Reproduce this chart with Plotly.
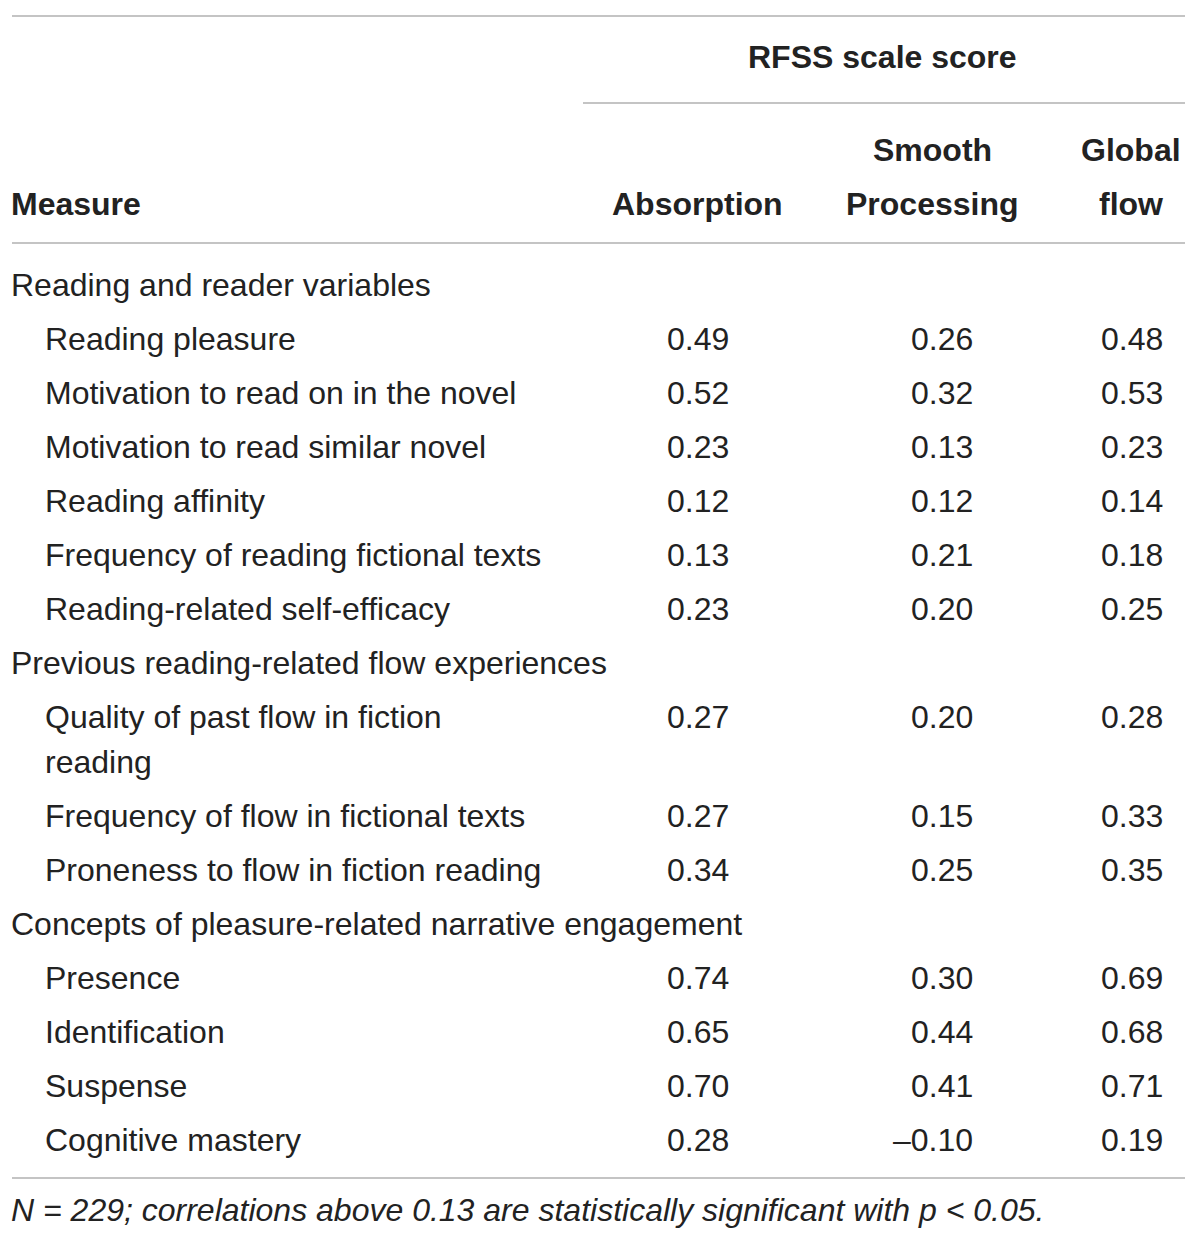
import plotly.graph_objects as go

# table content
groups = ["Reading and reader variables",
          "Previous reading-related flow experiences",
          "Concepts of pleasure-related narrative engagement"]
measures = [
    ["Reading pleasure", "Motivation to read on in the novel",
     "Motivation to read similar novel", "Reading affinity",
     "Frequency of reading fictional texts", "Reading-related self-efficacy"],
    ["Quality of past flow in fiction<br>reading", "Frequency of flow in fictional texts",
     "Proneness to flow in fiction reading"],
    ["Presence", "Identification", "Suspense", "Cognitive mastery"],
]
absorption = [[0.49, 0.52, 0.23, 0.12, 0.13, 0.23],
              [0.27, 0.27, 0.34],
              [0.74, 0.65, 0.70, 0.28]]
smooth = [[0.26, 0.32, 0.13, 0.12, 0.21, 0.20],
          [0.20, 0.15, 0.25],
          [0.30, 0.44, 0.41, -0.10]]
global_flow = [[0.48, 0.53, 0.23, 0.14, 0.18, 0.25],
               [0.28, 0.33, 0.35],
               [0.69, 0.68, 0.71, 0.19]]
note = "N = 229; correlations above 0.13 are statistically significant with p < 0.05."

FONT = "Liberation Sans"
TXT = "#222222"
LINE = "#c4c4c4"
SIZE = 32

def fmt(v):
    s = "%.2f" % abs(v)
    return ("\u2013" + s) if v < 0 else s

ann = []
def add(x, y, text, anchor="left", bold=False, italic=False, size=SIZE):
    t = text
    if bold:
        t = "<b>" + t + "</b>"
    if italic:
        t = "<i>" + t + "</i>"
    ann.append(dict(x=x, y=y, text=t, xanchor=anchor, yanchor="middle",
                    showarrow=False, align=anchor,
                    font=dict(family=FONT, size=size, color=TXT)))

# header
add(882, 57, "RFSS scale score", "center", bold=True)
add(9, 204, "Measure", bold=True)
add(697, 204, "Absorption", "center", bold=True)
add(932, 150, "Smooth", "center", bold=True)
add(932, 204, "Processing", "center", bold=True)
add(1131, 150, "Global", "center", bold=True)
add(1131, 204, "flow", "center", bold=True)

# body rows
y = 285
pitch = 54
for g, name in enumerate(groups):
    add(9, y, name)
    y += pitch
    for i, m in enumerate(measures[g]):
        if "<br>" in m:
            first, second = m.split("<br>")
            add(43, y, first)
            add(43, y + 45, second)
        else:
            add(43, y, m)
        add(731, y, fmt(absorption[g][i]), "right")
        add(975, y, fmt(smooth[g][i]), "right")
        add(1165, y, fmt(global_flow[g][i]), "right")
        y += pitch + (45 if "<br>" in m else 0)

add(9, 1210, note, italic=True, size=32)

shapes = []
for x0, yy in [(12, 16), (583, 103), (12, 243), (12, 1178)]:
    shapes.append(dict(type="line", x0=x0, x1=1185, y0=yy, y1=yy,
                       xref="x", yref="y", line=dict(color=LINE, width=2)))

# the page body has an 8px margin, so the axes start at 8
fig = go.Figure()
fig.update_layout(
    width=1184, height=1224,
    margin=dict(l=0, r=0, t=0, b=0),
    paper_bgcolor="white", plot_bgcolor="white",
    xaxis=dict(range=[8, 1192], visible=False, fixedrange=True),
    yaxis=dict(range=[1232, 8], visible=False, fixedrange=True),
    annotations=ann, shapes=shapes, showlegend=False,
)
fig.write_html("out.html")
